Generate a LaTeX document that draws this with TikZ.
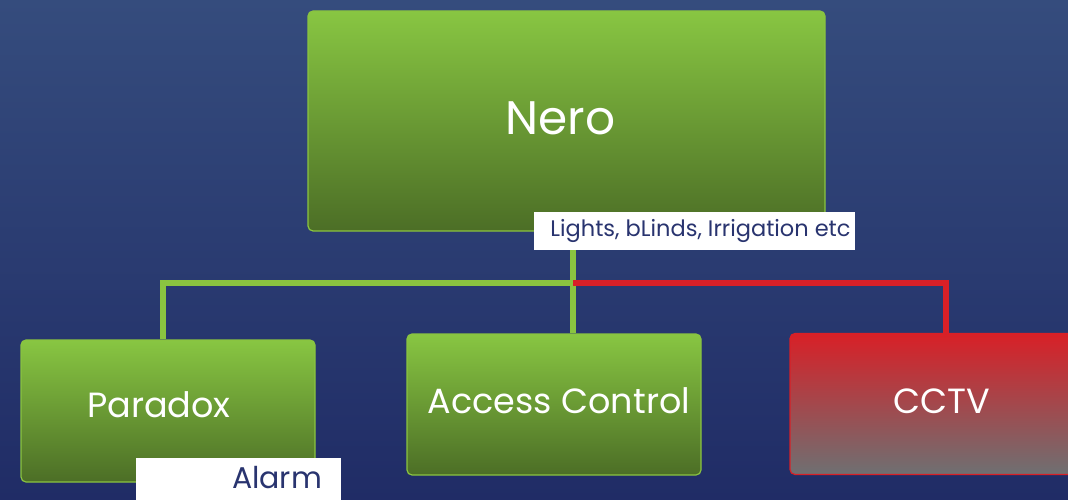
\documentclass[tikz,border=0pt]{standalone}
\usepackage{fontspec}
\setmainfont{Poppins}
\usetikzlibrary{positioning}

\definecolor{bgtop}{RGB}{53,76,125}
\definecolor{bgbot}{RGB}{32,44,102}
\definecolor{grtop}{RGB}{136,198,66}
\definecolor{grbot}{RGB}{76,110,38}
\definecolor{grline}{RGB}{138,196,64}
\definecolor{rdtop}{RGB}{216,32,39}
\definecolor{rdbot}{RGB}{110,112,114}
\definecolor{navy}{RGB}{41,52,111}

\begin{document}
\begin{tikzpicture}
        [x=1pt,y=-1pt,
        box/.style={draw=grline,line width=1.2pt,rounded corners=5pt,top color=grtop,bottom color=grbot,text=white,inner sep=0,minimum width=294pt,minimum height=141pt,font=\fontsize{35}{40}\selectfont,text height=25pt,text depth=7pt},
        redbox/.style={box,draw=rdtop,top color=rdtop,bottom color=rdbot},
        tag/.style={fill=white,text=navy,inner sep=0,minimum height=38pt},
        link/.style={line width=6pt,grline,line join=miter},
        redlink/.style={link,rdtop}]

        \useasboundingbox (0,0) rectangle (1068,500);
        \shade[top color=bgtop,bottom color=bgbot] (0,0) rectangle (1068,500);

        \node[box,minimum width=517pt,minimum height=220pt,font=\fontsize{47}{52}\selectfont,text height=34pt,text depth=6pt] (nero) at (566.5,121) {\hspace*{-12pt}Nero};
        \node[box,minimum height=142pt,text height=24pt,text depth=12pt] (paradox) at (168,411) {\hspace*{-18pt}Paradox};
        \node[box,text height=25pt,text depth=7pt] (access) at (554,404.5) {\hspace*{10pt}Access Control};
        \node[redbox,text height=25pt,text depth=7pt] (cctv) at (937,404) {\hspace*{10pt}CCTV};

        \coordinate (hub) at (572.5,282.5);
        \coordinate (pbend) at (162.5,282.5);
        \coordinate (cbend) at (946,282.5);

        \draw[link] (hub |- nero.south) -- (hub);
        \draw[link] (hub) -- (hub |- access.north);
        \draw[link] ([xshift=3pt]hub) -- (pbend) -- (pbend |- paradox.north);
        \draw[redlink] ([xshift=0.5pt]hub) -- (cbend) -- (cbend |- cctv.north);

        \node[tag,minimum width=321pt,font=\fontsize{22.5}{27}\selectfont] (lights) at (694.5,231) {\hspace*{12pt}Lights, bLinds, Irrigation etc};
        \node[tag,minimum width=205pt,font=\fontsize{30}{34}\selectfont,text height=30pt,text depth=30pt] (alarm) at (238.5,488) {\hspace*{77pt}Alarm};

      \end{tikzpicture}
\end{document}
